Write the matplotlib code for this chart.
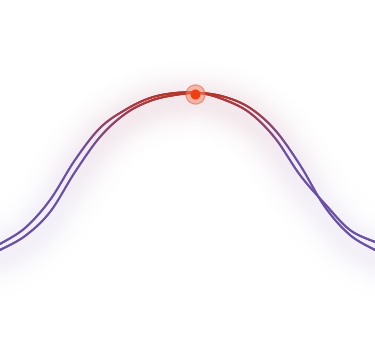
import numpy as np
import matplotlib
matplotlib.use('Agg')
import matplotlib.pyplot as plt
from matplotlib.collections import LineCollection
from matplotlib.colors import to_rgb

# data (x = category index, y = value)
x_idx=list(range(16))
series_a=[116,132,160,200,232,250,262,267,267,260,247,222,185,156,130,118]
series_b=[110,124,148,188,223,246,259,265,267,263,252,230,195,153,125,110]
peak_x=7.8
peak_val=266

low_col=np.array(to_rgb('#6a50a6'))
high_col=np.array(to_rgb('#b5352c'))
glow_low=np.array(to_rgb('#9a80c0'))
glow_high=np.array(to_rgb('#9c3a5c'))

W,H=375,360

def smooth(xs,ys,n=30):
    # cubic bezier through the points (like a "smooth" line)
    p=np.column_stack([xs,ys]).astype(float)
    out=[]
    for i in range(len(p)-1):
        p0=p[max(i-1,0)]; p1=p[i]; p2=p[i+1]; p3=p[min(i+2,len(p)-1)]
        c1=p1+(p2-p0)/6.0
        c2=p2-(p3-p1)/6.0
        t=np.linspace(0,1,n,endpoint=False)[:,None]
        out.append((1-t)**3*p1+3*(1-t)**2*t*c1+3*(1-t)*t**2*c2+t**3*p2)
    out.append(p[-1:])
    return np.vstack(out)

def mix(v,c0,c1,lo=212):
    t=np.clip((v-lo)/(267-lo),0,1)[:,None]
    return c0*(1-t)+c1*t

fig=plt.figure(figsize=(3.75,3.6),dpi=100)
ax=fig.add_axes([0,0,1,1])
ax.set_xlim(0,15)
ax.set_ylim(0,360)
ax.axis('off')

# blurred shadow under the lines, drawn as an image
curve=np.vstack([smooth(x_idx,s) for s in [series_a,series_b]])
cx=curve[:,0]*W/15.0
cy=curve[:,1]-7
gx=np.arange(W)+0.5
gy=H-(np.arange(H)+0.5)
rgba=np.zeros((H,W,4))
for r0 in range(0,H,20):
    yy=gy[r0:r0+20]
    d2=(gx[None,:,None]-cx[None,None,:])**2+(yy[:,None,None]-cy[None,None,:])**2
    k=d2.argmin(axis=2)
    d=np.sqrt(d2.min(axis=2))
    a=0.12*np.exp(-d**2/(2*15.0**2))
    col=mix(curve[k.ravel(),1],glow_low,glow_high,lo=160).reshape(len(yy),W,3)
    rgba[r0:r0+20,:,:3]=col
    rgba[r0:r0+20,:,3]=a
ax.imshow(rgba,extent=[0,15,0,360],aspect='auto',zorder=1,interpolation='bilinear')

for ser in [series_a,series_b]:
    pts=smooth(x_idx,ser)
    segs=np.stack([pts[:-1],pts[1:]],axis=1)
    mid=(pts[:-1,1]+pts[1:,1])/2
    lc=LineCollection(segs,colors=mix(mid,low_col,high_col,lo=205),linewidths=1.5,capstyle='round',zorder=3)
    ax.add_collection(lc)

ax.scatter([peak_x],[peak_val],s=190,color='#f08a6c',alpha=0.55,edgecolor='#e8502a',linewidth=0.8,zorder=4)
ax.scatter([peak_x],[peak_val],s=38,color='#ee3f12',zorder=5)

fig.savefig('out.png',dpi=100,facecolor='white')
